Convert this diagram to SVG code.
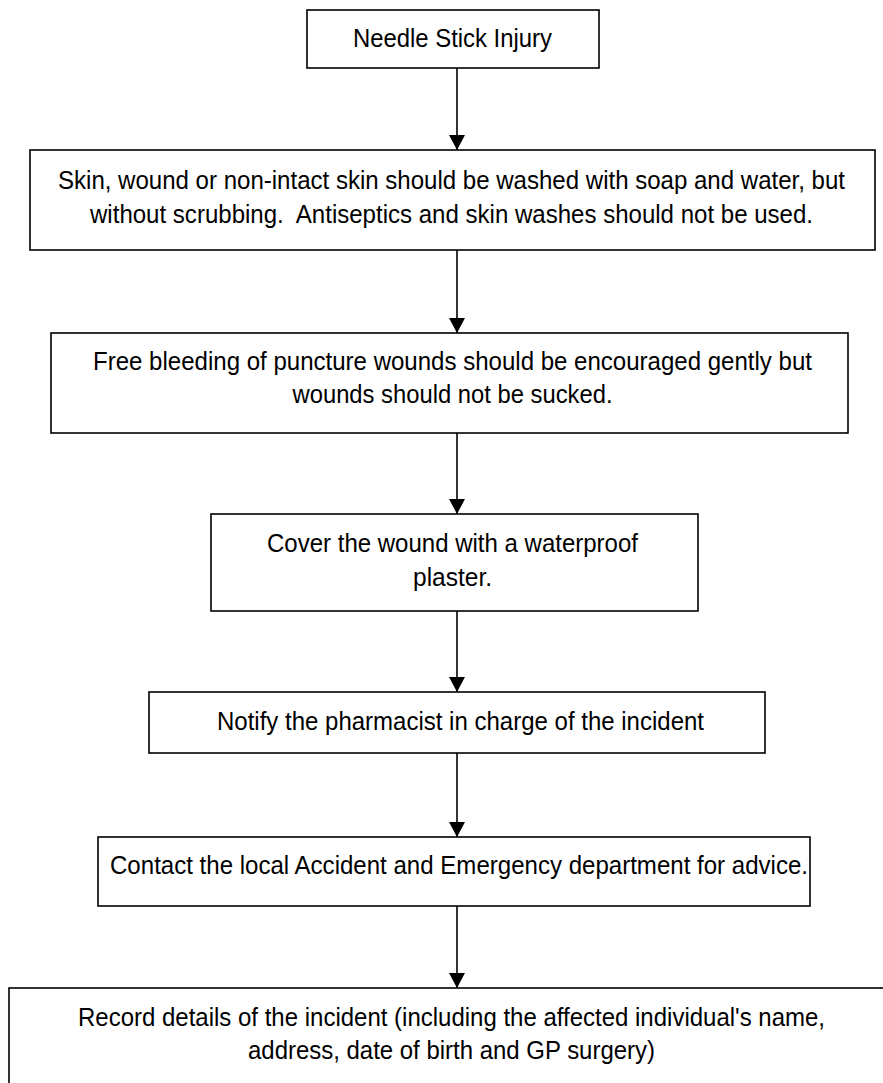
<svg xmlns="http://www.w3.org/2000/svg" width="883" height="1083" viewBox="0 0 883 1083">
<defs>
<style>
.box{fill:#fff;stroke:#000;stroke-width:1.6}
.t{font-family:"Liberation Sans",Arial,sans-serif;font-size:25px;fill:#000;text-anchor:middle;white-space:pre}
.c{stroke:#000;stroke-width:1.6;fill:none}
</style>
</defs>
<rect width="883" height="1083" fill="#fff"/>
<g id="connectors">
<line class="c" x1="457" y1="68" x2="457" y2="150"/>
<path d="M449,135 L465,135 L457,150 Z"/>
<line class="c" x1="457" y1="250" x2="457" y2="333"/>
<path d="M449,318 L465,318 L457,333 Z"/>
<line class="c" x1="457" y1="433" x2="457" y2="514"/>
<path d="M449,499 L465,499 L457,514 Z"/>
<line class="c" x1="457" y1="611" x2="457" y2="692"/>
<path d="M449,677 L465,677 L457,692 Z"/>
<line class="c" x1="457" y1="753" x2="457" y2="837"/>
<path d="M449,822 L465,822 L457,837 Z"/>
<line class="c" x1="457" y1="906" x2="457" y2="988"/>
<path d="M449,973 L465,973 L457,988 Z"/>
</g>
<g id="n1">
<rect class="box" x="307" y="10" width="292" height="58"/>
<text class="t" x="452.5" y="47" textLength="199" lengthAdjust="spacingAndGlyphs">Needle Stick Injury</text>
</g>
<g id="n2">
<rect class="box" x="30" y="150" width="845" height="100"/>
<text class="t" x="451.5" y="189" textLength="787" lengthAdjust="spacingAndGlyphs">Skin, wound or non-intact skin should be washed with soap and water, but</text>
<text class="t" x="451.5" y="223" textLength="723" lengthAdjust="spacingAndGlyphs" xml:space="preserve">without scrubbing.  Antiseptics and skin washes should not be used.</text>
</g>
<g id="n3">
<rect class="box" x="51" y="333" width="797" height="100"/>
<text class="t" x="452.5" y="370" textLength="719" lengthAdjust="spacingAndGlyphs">Free bleeding of puncture wounds should be encouraged gently but</text>
<text class="t" x="452.5" y="403" textLength="320" lengthAdjust="spacingAndGlyphs">wounds should not be sucked.</text>
</g>
<g id="n4">
<rect class="box" x="211" y="514" width="487" height="97"/>
<text class="t" x="452.5" y="552" textLength="371" lengthAdjust="spacingAndGlyphs">Cover the wound with a waterproof</text>
<text class="t" x="452.5" y="586" textLength="79" lengthAdjust="spacingAndGlyphs">plaster.</text>
</g>
<g id="n5">
<rect class="box" x="149" y="692" width="616" height="61"/>
<text class="t" x="460.5" y="730" textLength="487" lengthAdjust="spacingAndGlyphs">Notify the pharmacist in charge of the incident</text>
</g>
<g id="n6">
<rect class="box" x="98" y="837" width="712" height="69"/>
<text class="t" x="459" y="874" textLength="698" lengthAdjust="spacingAndGlyphs">Contact the local Accident and Emergency department for advice.</text>
</g>
<g id="n7">
<rect class="box" x="9" y="988" width="890" height="120"/>
<text class="t" x="451.5" y="1026" textLength="747" lengthAdjust="spacingAndGlyphs">Record details of the incident (including the affected individual's name,</text>
<text class="t" x="451.5" y="1059" textLength="407" lengthAdjust="spacingAndGlyphs">address, date of birth and GP surgery)</text>
</g>
</svg>
